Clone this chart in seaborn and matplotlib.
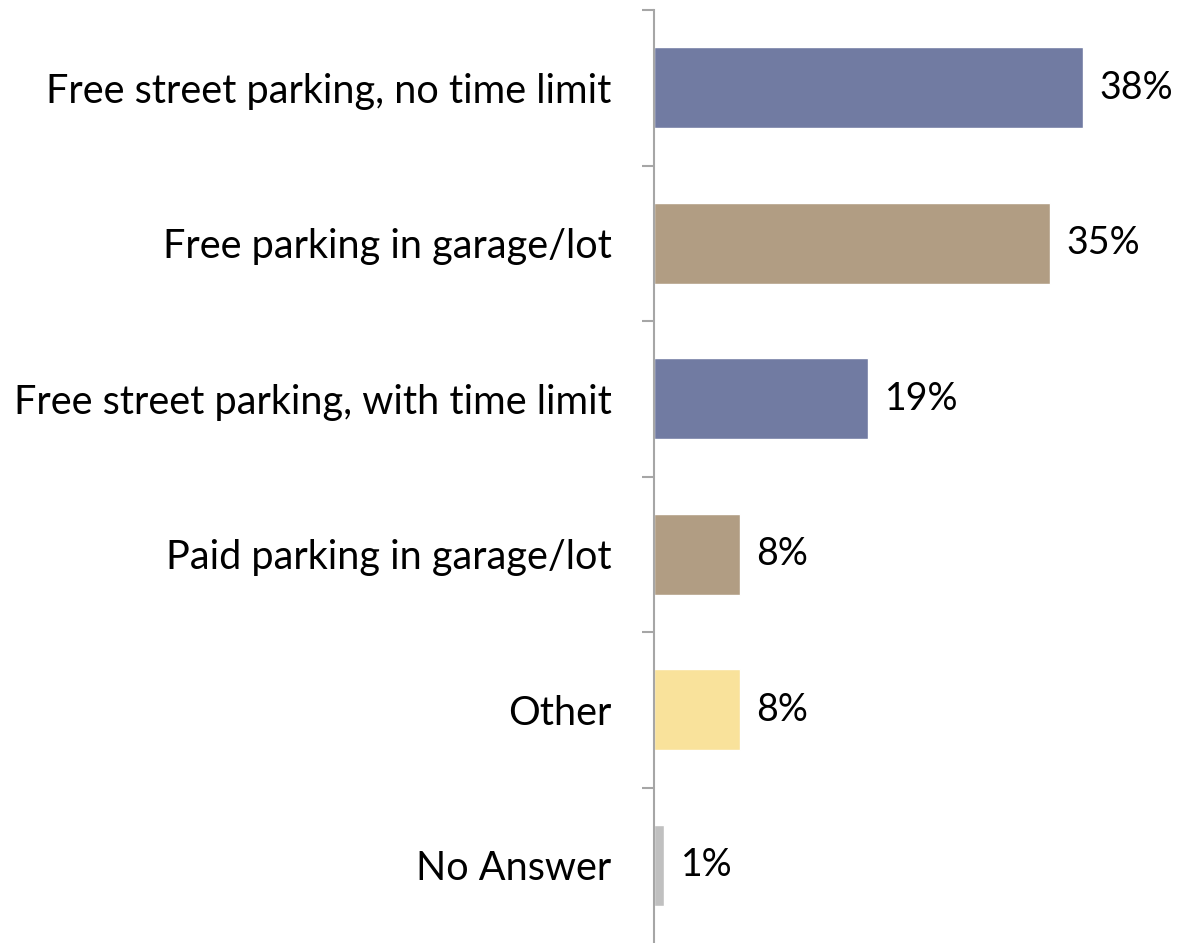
import matplotlib.pyplot as plt
import seaborn as sns
import pandas as pd
import numpy as np

# data
categories = ['Free street parking, no time limit',
              'Free parking in garage/lot',
              'Free street parking, with time limit',
              'Paid parking in garage/lot',
              'Other',
              'No Answer']
values = [38.0, 35.1, 19.0, 7.6, 7.6, 0.9]
labels = ['38%', '35%', '19%', '8%', '8%', '1%']
colors = ['#717BA2', '#B19D83', '#717BA2', '#B19D83', '#F9E29B', '#C0C0C0']

df = pd.DataFrame({'cat': categories, 'val': values})

sns.set_style('white')
plt.rcParams['font.family'] = ['Lato', 'DejaVu Sans']

fig = plt.figure(figsize=(11.78, 9.43), dpi=100)
ax = fig.add_axes([654 / 1178, 0.0, 508 / 1178, 933 / 943])

sns.barplot(data=df, x='val', y='cat', hue='cat', palette=colors,
            saturation=1, orient='h', width=0.52, legend=False, ax=ax)

for cont, lab in zip(ax.containers, labels):
    ax.bar_label(cont, labels=[lab], padding=12, fontsize=27, color='black')

ax.set_xlim(0, 45)
ax.set_ylim(5.5, -0.5)
ax.set_xlabel('')
ax.set_ylabel('')
ax.set_xticks([])

for s in ['top', 'right', 'bottom']:
    ax.spines[s].set_visible(False)
ax.spines['left'].set_color('#A6A6A6')
ax.spines['left'].set_linewidth(1.5)

ax.tick_params(axis='y', which='major', left=False, pad=27,
               labelsize=28.5, labelcolor='black')
ax.set_yticks(np.arange(-0.5, 5.5, 1), minor=True)
ax.tick_params(axis='y', which='minor', left=True, length=9, width=1.5,
               color='#A6A6A6')

fig.savefig('out.png', dpi=100)
